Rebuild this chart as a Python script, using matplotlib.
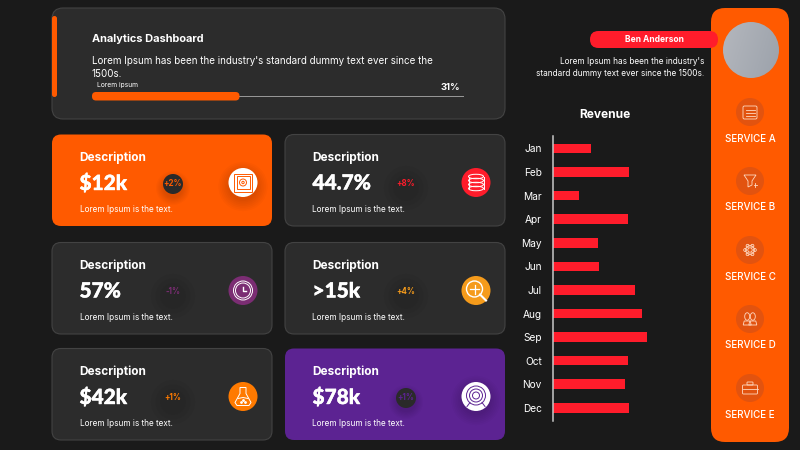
import numpy as np
import matplotlib
matplotlib.use("Agg")
import matplotlib.pyplot as plt
import matplotlib.patheffects as pe
from matplotlib.colors import LinearSegmentedColormap
from matplotlib.patches import Circle, Ellipse, FancyBboxPatch, Polygon, Rectangle

plt.rcParams["font.family"] = ["Inter", "DejaVu Sans"]

BG = "#1a1a1a"
CARD = "#2c2c2c"
EDGE = "#434343"
ORANGE = "#ff5a00"
RED = "#ff1c2b"
PURPLE = "#5c2392"
WHITE = "#ffffff"

months = ["Jan", "Feb", "Mar", "Apr", "May", "Jun", "Jul", "Aug", "Sep", "Oct", "Nov", "Dec"]
revenue = [38, 76, 26, 75, 45, 46, 82, 89, 94, 75, 72, 76]

card_values = ["$12k", "44.7%", "57%", ">15k", "$42k", "$78k"]
card_deltas = ["+2%", "+8%", "-1%", "+4%", "+1%", "+1%"]
delta_colors = [ORANGE, RED, "#7b2d73", "#f59b1b", "#ff7a00", PURPLE]
card_fills = [ORANGE, CARD, CARD, CARD, CARD, PURPLE]
icon_fills = [WHITE, RED, "#7b2d73", "#f59b1b", "#ff7a00", WHITE]
icon_names = ["safe", "db", "clock", "search", "flask", "target"]
services = ["SERVICE A", "SERVICE B", "SERVICE C", "SERVICE D", "SERVICE E"]
service_icons = ["calendar", "funnel", "gear", "people", "case"]

fig = plt.figure(figsize=(8, 4.5), dpi=100, facecolor=BG)
ax = fig.add_axes([0, 0, 1, 1])
ax.set_xlim(0, 800)
ax.set_ylim(450, 0)
ax.axis("off")


def rbox(x0, y0, x1, y1, r, fc, ec="none", lw=0.8, z=1):
    ax.add_patch(FancyBboxPatch((x0, y0), x1 - x0, y1 - y0, boxstyle=f"round,pad=0,rounding_size={r}",
                                fc=fc, ec=ec, lw=lw, zorder=z))


def shadow(x, y, r, layers=7, alpha=0.02, z=2):
    # soft glow built from stacked translucent circles, agg rounds very low alphas up so keep few layers
    for k in np.linspace(1.7, 1.0, layers):
        ax.add_patch(Circle((x, y + 4), r * k, fc="black", ec="none", alpha=alpha, zorder=z))


def draw_icon(name, x, y, c, lw=0.7):
    kw = dict(fc="none", ec=c, lw=lw, zorder=6)
    line = dict(color=c, lw=lw, zorder=6)
    if name == "safe":
        ax.add_patch(Rectangle((x - 9, y - 9), 18, 18, **kw))
        ax.add_patch(Rectangle((x - 6.5, y - 6.5), 13, 13, **kw))
        ax.add_patch(Circle((x, y), 3.5, **kw))
        ax.add_patch(Circle((x, y), 1.2, **kw))
    elif name == "db":
        for dy in (-6, -2, 2, 6):
            ax.add_patch(Ellipse((x, y + dy), 15, 4.5, **kw))
        ax.plot([x - 7.5, x - 7.5], [y - 6, y + 6], **line)
        ax.plot([x + 7.5, x + 7.5], [y - 6, y + 6], **line)
    elif name == "clock":
        for r in (9.5, 7.5):
            ax.add_patch(Circle((x, y), r, **kw))
        ax.plot([x, x, x + 3], [y - 3.5, y, y], color=c, lw=1, zorder=6)
    elif name == "search":
        ax.add_patch(Circle((x - 1.5, y - 1.5), 8, **dict(kw, lw=1.0)))
        ax.plot([x + 4, x + 10], [y + 4, y + 10], color=c, lw=1.5, zorder=6)
        ax.plot([x - 6, x + 3], [y - 1.5, y - 1.5], color=c, lw=0.9, zorder=6)
        ax.plot([x - 1.5, x - 1.5], [y - 6, y + 3], color=c, lw=0.9, zorder=6)
    elif name == "flask":
        ax.add_patch(Polygon([(x - 3, y - 9), (x + 3, y - 9), (x + 3, y - 3), (x + 8, y + 6), (x + 6, y + 9),
                              (x - 6, y + 9), (x - 8, y + 6), (x - 3, y - 3)], closed=True, **kw))
        ax.plot([x - 5, x, x + 5], [y + 2, y + 1, y + 2], **line)
        ax.plot([x - 2, x + 2, x], [y + 5, y + 5.5, y + 3], "o", color=c, ms=1, zorder=6)
    elif name == "target":
        for r in (9.5, 6.5, 3.5):
            ax.add_patch(Circle((x, y - 1), r, **kw))
        ax.plot([x - 9, x - 6], [y + 10, y + 6], **line)
        ax.plot([x + 9, x + 6], [y + 10, y + 6], **line)
    elif name == "calendar":
        rbox(x - 7, y - 6, x + 7, y + 7, 1.5, "none", ec=c, lw=lw, z=6)
        for dy in (-2, 1, 4):
            ax.plot([x - 4.5, x + 4.5], [y + dy, y + dy], **line)
    elif name == "funnel":
        ax.add_patch(Polygon([(x - 6, y - 6), (x + 6, y - 6), (x + 2, y), (x + 2, y + 4), (x - 2, y + 6), (x - 2, y)],
                             closed=True, **kw))
        ax.plot([x + 3.5, x + 7], [y + 4, y + 4], **line)
        ax.plot([x + 5.2, x + 5.2], [y + 2.2, y + 5.8], **line)
    elif name == "gear":
        ax.add_patch(Circle((x, y), 2.2, **kw))
        ax.add_patch(Circle((x, y), 4.4, **kw))
        for a in np.arange(0, 360, 60):
            ax.add_patch(Circle((x + 4.8 * np.cos(np.radians(a)), y + 4.8 * np.sin(np.radians(a))), 1.5, **kw))
    elif name == "people":
        for dx in (-2.8, 2.8):
            ax.add_patch(Ellipse((x + dx, y - 2.5), 5, 7.5, **kw))
            ax.add_patch(Polygon([(x + dx - 4, y + 6), (x + dx - 3, y + 2), (x + dx + 3, y + 2), (x + dx + 4, y + 6)],
                                 closed=True, **kw))
    elif name == "case":
        rbox(x - 7.5, y - 3, x + 7.5, y + 6, 1, "none", ec=c, lw=lw, z=6)
        rbox(x - 3, y - 6, x + 3, y - 3, 0.6, "none", ec=c, lw=lw, z=6)
        ax.plot([x - 7.5, x + 7.5], [y + 1, y + 1], **line)


# header panel
rbox(52, 8, 505, 119, 11, CARD, EDGE)
rbox(52, 16, 57, 97, 2.5, ORANGE, z=2)
ax.text(92, 38.5, "Analytics Dashboard", color=WHITE, fontsize=7.9, fontweight="bold", va="center", zorder=5)
ax.text(92, 61, "Lorem Ipsum has been the industry's standard dummy text ever since the", color=WHITE, fontsize=7.05,
        va="center", zorder=5)
ax.text(92, 74, "1500s.", color=WHITE, fontsize=7.05, va="center", zorder=5)
ax.text(97, 85, "Lorem ipsum", color=WHITE, fontsize=4.8, va="center", zorder=5)
ax.text(460, 87, "31%", color=WHITE, fontsize=6.8, fontweight="bold", va="center", ha="right", zorder=5)
ax.plot([235, 463], [96, 96], color="#9a9a9a", lw=0.7, zorder=3)
rbox(92, 92, 239.5, 100.5, 4, ORANGE, z=4)

# kpi cards
col_x = [(52, 272), (285, 505)]
row_y = [(134.5, 226), (242.5, 334), (348.5, 440)]
for i in range(6):
    x0, x1 = col_x[i % 2]
    y0, y1 = row_y[i // 2]
    filled = card_fills[i] != CARD
    rbox(x0, y0, x1, y1, 9, card_fills[i], "none" if filled else EDGE)
    ax.text(x0 + 27.5, y0 + 23, "Description", color=WHITE, fontsize=8.5, fontweight="bold", va="center", zorder=5)
    value = ax.text(x0 + 27.5, y0 + 48.5, card_values[i], color=WHITE, fontsize=15, fontweight="black",
                    family=["Lato", "DejaVu Sans"], va="center", zorder=5)
    value.set_path_effects([pe.withStroke(linewidth=0.3, foreground=WHITE)])
    ax.text(x0 + 27.5, y0 + 75, "Lorem Ipsum is the text.", color=WHITE, fontsize=5.9, va="center", zorder=5)

    px, py = x0 + 121, y0 + 49.5
    if filled:
        shadow(px, py, 10)
        ax.add_patch(Circle((px, py), 10, fc="#2a2a2a", ec="none", zorder=3))
    else:
        shadow(px, py, 13, layers=3, alpha=0.03)
    ax.text(px, py, card_deltas[i], color=delta_colors[i], fontsize=5.7, fontweight="bold", ha="center", va="center",
            zorder=5)

    ix, iy = x0 + 191, y0 + 48
    if filled:
        shadow(ix, iy, 14.5)
    ax.add_patch(Circle((ix, iy), 14.5, fc=icon_fills[i], ec="none", zorder=4))
    draw_icon(icon_names[i], ix, iy, card_fills[i] if filled else WHITE)

# sidebar
rbox(711, 8, 789, 442, 14, ORANGE)
rbox(590, 31, 718, 48, 8.5, RED, z=3)
ax.text(654, 40, "Ben Anderson", color=WHITE, fontsize=6.1, fontweight="bold", ha="center", va="center", zorder=5)
ax.text(704, 62, "Lorem Ipsum has been the industry's", color=WHITE, fontsize=5.95, ha="right", va="center", zorder=5)
ax.text(704, 73, "standard dummy text ever since the 1500s.", color=WHITE, fontsize=5.95, ha="right", va="center",
        zorder=5)

avatar = Circle((751, 50), 28, transform=ax.transData, fc="none", ec="none", zorder=6)
ax.add_patch(avatar)
grad = np.linspace(0, 1, 64)[None, :] + np.linspace(0, 0.3, 64)[:, None]
img = ax.imshow(grad, extent=(723, 779, 78, 22), cmap=LinearSegmentedColormap.from_list("av", ["#b4b7bd", "#9ca2ab"]),
                aspect="auto", zorder=6)
img.set_clip_path(avatar)
ax.set_xlim(0, 800)
ax.set_ylim(450, 0)

for i, name in enumerate(services):
    cy = 112 + 69 * i
    ax.add_patch(Circle((750, cy), 14, fc="#e2530f", ec="none", zorder=3))
    draw_icon(service_icons[i], 750, cy, "#ffd9c2", lw=0.6)
    ax.text(750, cy + 26.5, name, color=WHITE, fontsize=7.1, fontweight="medium", ha="center", va="center", zorder=5)

# revenue chart
ax.text(605, 115, "Revenue", color=WHITE, fontsize=8.6, fontweight="bold", ha="center", va="center", zorder=5)
chart = fig.add_axes([553 / 800, 1 - 421 / 450, 120 / 800, 285 / 450], facecolor="none")
chart.barh(months, revenue, height=0.41, color=RED)
chart.set_xlim(0, 120)
chart.set_ylim(11.56, -0.53)
chart.xaxis.set_visible(False)
for side in ("top", "right", "bottom"):
    chart.spines[side].set_visible(False)
chart.spines["left"].set_color("#c8c8c8")
chart.spines["left"].set_linewidth(1.1)
chart.tick_params(axis="y", length=0, pad=8, labelcolor=WHITE, labelsize=7.3)

fig.savefig("out.png", dpi=100, facecolor=BG)
